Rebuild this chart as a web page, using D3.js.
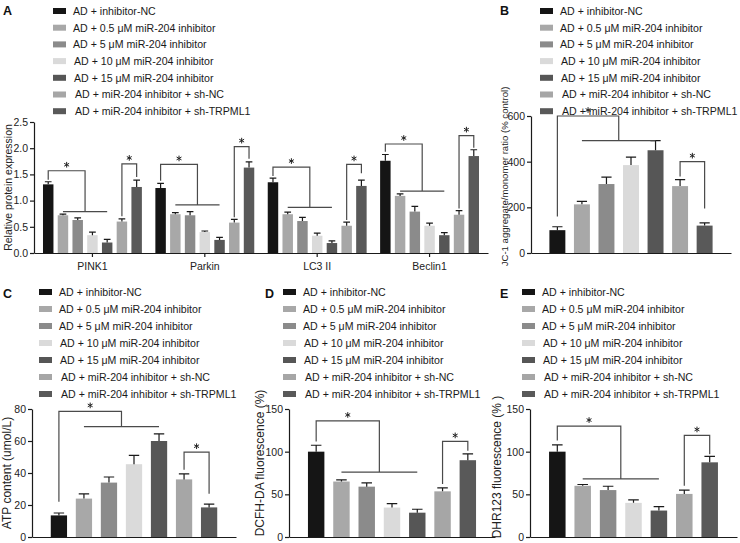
<!DOCTYPE html>
<html><head><meta charset="utf-8">
<script src="https://cdn.jsdelivr.net/npm/d3@7"></script>
<style>body{margin:0;background:#fff}svg{display:block}</style>
</head><body><svg id="chart" width="740" height="543"></svg>
<script>
// ---------------- data ----------------
const legendLabels = [
  "AD + inhibitor-NC",
  "AD + 0.5 μM miR-204 inhibitor",
  "AD + 5 μM miR-204 inhibitor",
  "AD + 10 μM miR-204 inhibitor",
  "AD + 15 μM miR-204 inhibitor",
  "AD + miR-204 inhibitor + sh-NC",
  "AD + miR-204 inhibitor + sh-TRPML1"
];
const seriesColors = ["#151515","#a8a8a8","#8b8b8b","#dadada","#565656","#a6a6a6","#595959"];

const proteinGroups = ["PINK1","Parkin","LC3 II","Beclin1"];
const pink1Values  = [1.31, 0.72, 0.63, 0.34, 0.20, 0.60, 1.26];
const pink1Errors  = [0.05, 0.02, 0.04, 0.06, 0.06, 0.05, 0.13];
const parkinValues = [1.24, 0.74, 0.72, 0.40, 0.25, 0.58, 1.63];
const parkinErrors = [0.09, 0.03, 0.07, 0.02, 0.05, 0.06, 0.11];
const lc3Values    = [1.35, 0.74, 0.61, 0.33, 0.19, 0.52, 1.28];
const lc3Errors    = [0.08, 0.04, 0.07, 0.05, 0.04, 0.07, 0.11];
const beclinValues = [1.76, 1.09, 0.79, 0.52, 0.34, 0.73, 1.85];
const beclinErrors = [0.12, 0.04, 0.10, 0.05, 0.05, 0.08, 0.12];
const proteinTicks = [0, 0.5, 1.0, 1.5, 2.0, 2.5];

const jc1Values  = [100, 213, 302, 385, 450, 293, 120];
const jc1Errors  = [15, 13, 30, 35, 42, 28, 12];
const jc1Ticks   = [0, 200, 400, 600];

const atpValues  = [13.5, 24, 34, 45.5, 60, 36, 18.5];
const atpErrors  = [1.5, 3, 3.5, 5.5, 4.5, 3.5, 2];
const atpTicks   = [0, 20, 40, 60, 80];

const dcfhValues = [100, 65, 59, 34.5, 28.5, 53.5, 90];
const dcfhErrors = [7.5, 2, 4.5, 4.5, 4, 4, 7.5];
const dcfhTicks  = [0, 50, 100, 150];

const dhrValues  = [100, 60, 55, 40, 31, 50.5, 87.5];
const dhrErrors  = [8, 1.5, 4.5, 3.5, 4.5, 4.5, 7];
const dhrTicks   = [0, 50, 100, 150];

// significance brackets (data units): multi = group 0 vs groups 1-4, pair = group 5 vs group 6
const proteinBrackets = [
  {multi:{top:1.57,start:1.40,line:0.79}, pair:{top:1.70,start:0.70,end:1.45}},
  {multi:{top:1.69,start:1.38,line:0.92}, pair:{top:2.03,start:0.68,end:1.80}},
  {multi:{top:1.64,start:1.47,line:0.87}, pair:{top:1.69,start:0.63,end:1.52}},
  {multi:{top:2.08,start:1.93,line:1.18}, pair:{top:2.24,start:0.85,end:2.01}}
];
const jc1Brackets  = [{multi:{top:600,start:160,line:492}, pair:{top:400,start:335,end:195}}];
const atpBrackets  = [{multi:{top:78.5,start:22,line:69},  pair:{top:53,start:42,end:27}}];
const dcfhBrackets = [{multi:{top:136,start:112,line:76},  pair:{top:112,start:62,end:101}}];
const dhrBrackets  = [{multi:{top:130,start:113,line:68},  pair:{top:119,start:60,end:97}}];

// ---------------- drawing ----------------
const FONT = '"Liberation Sans", Arial, Helvetica, sans-serif';
const svg = d3.select("#chart");
const INK = "#1a1a1a";
const BRK = "#4a4a4a";
const starPath = d3.symbol(d3.symbolAsterisk, 22)();

function letter(t, x, y) {
  svg.append("text").attr("x", x).attr("y", y).text(t)
    .style("font-family", FONT).style("font-size", "12.5px").style("font-weight", "bold").attr("fill", "#111");
}

function legend(x, y0, dy) {
  const g = svg.append("g");
  const indent = [0, 0, 0, 1, 1, 2, 2];
  legendLabels.forEach((lab, i) => {
    const y = y0 + i * dy;
    g.append("rect").attr("x", x).attr("y", y - 3).attr("width", 13).attr("height", 6).attr("fill", seriesColors[i]);
    g.append("text").attr("x", x + 20 + indent[i]).attr("y", y + 3.8).text(lab)
      .style("font-family", FONT).style("font-size", "10.6px").attr("fill", "#1a1a1a");
  });
}

function star(g, x, y) {
  g.append("path").attr("d", starPath).attr("transform", `translate(${x},${y})`)
    .attr("stroke", "#222").attr("stroke-width", 1).attr("fill", "none");
}

function panel(cfg) {
  const g = svg.append("g");
  const y = d3.scaleLinear().domain(cfg.domain).range(cfg.yRange);
  const x0 = d3.scaleBand().domain(cfg.groups).range(cfg.xRange)
    .paddingInner(cfg.gInner).paddingOuter(cfg.gOuter);
  const x1 = d3.scaleBand().domain(d3.range(7)).range([0, x0.bandwidth()])
    .paddingInner(cfg.bInner).paddingOuter(cfg.bOuter);

  cfg.groups.forEach((grp, gi) => {
    const vals = cfg.values[gi], errs = cfg.errors[gi];
    const gx = x0(grp);
    vals.forEach((v, i) => {
      const bx = gx + x1(i), bw = x1.bandwidth();
      g.append("rect").attr("x", bx).attr("y", y(v)).attr("width", bw)
        .attr("height", y(0) - y(v)).attr("fill", seriesColors[i]);
      const cx = bx + bw / 2, ye = y(v + errs[i]);
      const cw = bw * 0.32;
      g.append("path").attr("d", `M${cx},${y(v)}V${ye}M${cx - cw},${ye}H${cx + cw}`)
        .attr("stroke", INK).attr("stroke-width", 1.2).attr("fill", "none");
    });
    const br = cfg.brackets[gi];
    const c = i => gx + x1(i) + x1.bandwidth() / 2;
    const m = br.multi;
    const xm = (c(1) + c(4)) / 2;
    g.append("path").attr("d", `M${c(0)},${y(m.start)}V${y(m.top)}H${xm}V${y(m.line)}M${c(1)},${y(m.line)}H${c(4)}`)
      .attr("stroke", BRK).attr("stroke-width", 1.2).attr("fill", "none");
    star(g, (c(0) + xm) / 2, y(m.top) - 6);
    const p = br.pair;
    g.append("path").attr("d", `M${c(5)},${y(p.start)}V${y(p.top)}H${c(6)}V${y(p.end)}`)
      .attr("stroke", BRK).attr("stroke-width", 1.2).attr("fill", "none");
    star(g, (c(5) + c(6)) / 2, y(p.top) - 6);
  });

  const ya = g.append("g").attr("transform", `translate(${cfg.xRange[0]},0)`)
    .call(d3.axisLeft(y).tickValues(cfg.ticks).tickFormat(cfg.fmt).tickSize(4).tickSizeOuter(0).tickPadding(2));
  ya.attr("font-family", null).attr("font-size", null);
  ya.select(".domain").attr("stroke", INK).attr("stroke-width", 1.2);
  ya.selectAll(".tick line").attr("stroke", INK).attr("stroke-width", 1.2);
  ya.selectAll(".tick text").attr("fill", "#222").style("font-family", FONT).style("font-size", "10.5px");

  const xa = g.append("g").attr("transform", `translate(0,${y(0)})`);
  if (cfg.showX) {
    xa.call(d3.axisBottom(x0).tickSize(4).tickSizeOuter(0).tickPadding(6));
    xa.attr("font-family", null).attr("font-size", null);
    xa.selectAll(".tick line").attr("stroke", INK).attr("stroke-width", 1.2);
    xa.selectAll(".tick text").attr("fill", "#222").style("font-family", FONT).style("font-size", "10.5px");
  } else {
    xa.call(d3.axisBottom(x0).tickSize(0).tickSizeOuter(0).tickFormat(""));
  }
  xa.select(".domain").attr("stroke", INK).attr("stroke-width", 1.2);

  const ty = (cfg.yRange[0] + cfg.yRange[1]) / 2 + (cfg.titleShift || 0);
  g.append("text").attr("transform", `translate(${cfg.titleX},${ty}) rotate(-90)`)
    .attr("text-anchor", "middle").attr("dy", "0.35em").text(cfg.title)
    .style("font-family", FONT).style("font-size", cfg.titleSize).attr("fill", "#222");
}

const single = [""];
const f1 = d3.format(".1f"), f0 = d3.format("d");

// Panel A
letter("A", 3, 15); legend(53, 11, 16.7);
panel({groups: proteinGroups,
  values: [pink1Values, parkinValues, lc3Values, beclinValues],
  errors: [pink1Errors, parkinErrors, lc3Errors, beclinErrors],
  brackets: proteinBrackets, domain: [0, 2.5], ticks: proteinTicks, fmt: f1,
  xRange: [34, 488], yRange: [253, 122], gInner: 0.12, gOuter: 0.08, bInner: 0.29, bOuter: 0,
  showX: true, title: "Relative protein expression", titleX: 8, titleSize: "10.5px"});

// Panel B
letter("B", 500, 15); legend(540, 11, 16.7);
panel({groups: single, values: [jc1Values], errors: [jc1Errors], brackets: jc1Brackets,
  domain: [0, 600], ticks: jc1Ticks, fmt: f0,
  xRange: [531, 731], yRange: [253, 116], gInner: 0, gOuter: 0, bInner: 0.35, bOuter: 0.75,
  showX: false, title: "JC-1 aggregate/monomer ratio (% control)", titleX: 505, titleSize: "9.6px", titleShift: -8});

// Panel C
letter("C", 3, 298); legend(39, 292, 17);
panel({groups: single, values: [atpValues], errors: [atpErrors], brackets: atpBrackets,
  domain: [0, 80], ticks: atpTicks, fmt: f0,
  xRange: [32, 236], yRange: [537, 409], gInner: 0, gOuter: 0, bInner: 0.35, bOuter: 0.75,
  showX: false, title: "ATP content (umol/L)", titleX: 7, titleSize: "12px"});

// Panel D
letter("D", 265, 298); legend(283, 292, 17);
panel({groups: single, values: [dcfhValues], errors: [dcfhErrors], brackets: dcfhBrackets,
  domain: [0, 150], ticks: dcfhTicks, fmt: f0,
  xRange: [289, 495], yRange: [537, 409], gInner: 0, gOuter: 0, bInner: 0.35, bOuter: 0.75,
  showX: false, title: "DCFH-DA fluorescence (%)", titleX: 260, titleSize: "12px", titleShift: -10});

// Panel E
letter("E", 500, 298); legend(522, 292, 17);
panel({groups: single, values: [dhrValues], errors: [dhrErrors], brackets: dhrBrackets,
  domain: [0, 150], ticks: dhrTicks, fmt: f0,
  xRange: [530, 737], yRange: [537, 409], gInner: 0, gOuter: 0, bInner: 0.35, bOuter: 0.75,
  showX: false, title: "DHR123 fluorescence (% )", titleX: 497, titleSize: "12px", titleShift: -6});
</script>
</body></html>
